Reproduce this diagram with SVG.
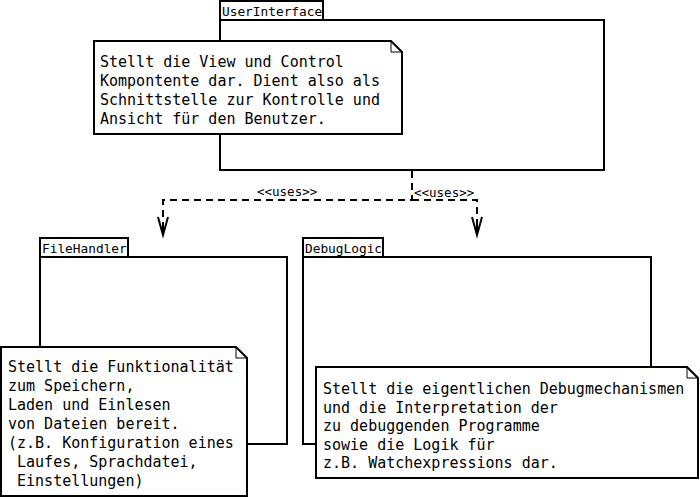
<svg xmlns="http://www.w3.org/2000/svg" width="700" height="499" viewBox="0 0 700 499">
<style>
.box{fill:#fff;stroke:#000;stroke-width:2}
.tab{font-family:"DejaVu Sans Mono",monospace;font-size:12.8px;fill:#000}
.note{font-family:"DejaVu Sans Mono",monospace;font-size:15px;fill:#000;white-space:pre}
.lbl{font-family:"DejaVu Sans Mono",monospace;font-size:12.5px;fill:#000}
.dash{fill:none;stroke:#000;stroke-width:2;stroke-dasharray:7,5}
.head{fill:none;stroke:#000;stroke-width:2}
.fold{fill:none;stroke:#000;stroke-width:1}
</style>
<rect width="700" height="499" fill="#fff"/>
<g id="UserInterface">
<rect class="box" x="220" y="1" width="103" height="19"/>
<text class="tab" x="222" y="16">UserInterface</text>
<rect class="box" x="220" y="20" width="384" height="150"/>
</g>
<g id="FileHandler">
<rect class="box" x="40" y="238" width="88" height="19"/>
<text class="tab" x="42" y="253">FileHandler</text>
<rect class="box" x="40" y="257" width="247" height="187"/>
</g>
<g id="DebugLogic">
<rect class="box" x="303" y="238" width="80" height="19"/>
<text class="tab" x="305" y="253">DebugLogic</text>
<rect class="box" x="303" y="257" width="348" height="187"/>
</g>
<g id="connectors">
<path class="dash" d="M412,171 V200 H163 V234"/>
<path class="dash" d="M412,200 H477 V234"/>
<path class="head" d="M158,217 L163,235 L168,217 M163,222 V235"/>
<path class="head" d="M472,217 L477,235 L482,217 M477,222 V235"/>
<text class="lbl" x="257" y="196">&lt;&lt;uses&gt;&gt;</text>
<text class="lbl" x="414" y="197">&lt;&lt;uses&gt;&gt;</text>
</g>
<g id="NoteUI">
<path class="box" d="M94,41 H391 L402,52 V134 H94 Z"/>
<path class="fold" d="M391,41 V52 H402"/>
<text class="note" x="100" y="67">Stellt die View und Control</text>
<text class="note" x="100" y="86">Kompontente dar. Dient also als</text>
<text class="note" x="100" y="105">Schnittstelle zur Kontrolle und</text>
<text class="note" x="100" y="124">Ansicht für den Benutzer.</text>
</g>
<g id="NoteFileHandler">
<path class="box" d="M1,347 H236 L247,358 V496 H1 Z"/>
<path class="fold" d="M236,347 V358 H247"/>
<text class="note" x="8" y="372">Stellt die Funktionalität</text>
<text class="note" x="8" y="391">zum Speichern,</text>
<text class="note" x="8" y="410">Laden und Einlesen</text>
<text class="note" x="8" y="429">von Dateien bereit.</text>
<text class="note" x="8" y="448">(z.B. Konfiguration eines</text>
<text class="note" x="8" y="467" xml:space="preserve"> Laufes, Sprachdatei,</text>
<text class="note" x="8" y="486" xml:space="preserve"> Einstellungen)</text>
</g>
<g id="NoteDebugLogic">
<path class="box" d="M316,367 H687 L698,378 V478 H316 Z"/>
<path class="fold" d="M687,367 V378 H698"/>
<text class="note" x="323" y="394">Stellt die eigentlichen Debugmechanismen</text>
<text class="note" x="323" y="412.5">und die Interpretation der</text>
<text class="note" x="323" y="431">zu debuggenden Programme</text>
<text class="note" x="323" y="449.5">sowie die Logik für</text>
<text class="note" x="323" y="468">z.B. Watchexpressions dar.</text>
</g>
</svg>
